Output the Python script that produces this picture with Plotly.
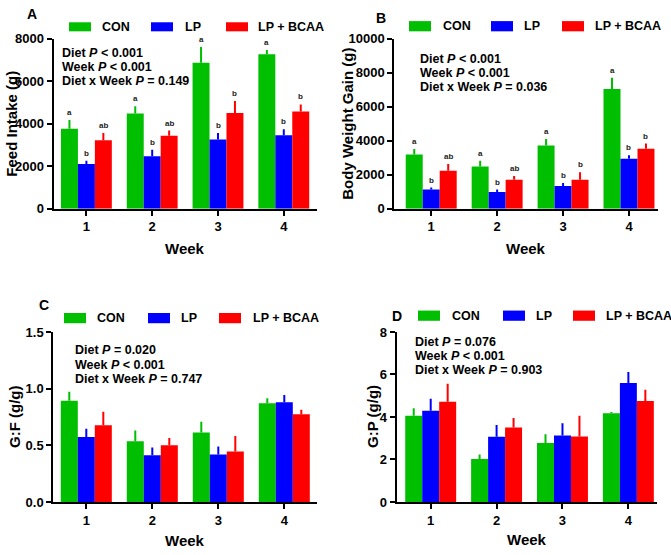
import plotly.graph_objects as go

W, H = 671, 555
weeks = [1, 2, 3, 4]
groups = ["CON", "LP", "LP + BCAA"]
colors = ["#00BE00", "#0000FF", "#FF0000"]

# Panel A: Feed intake (g)
fi_mean = {"CON": [3760, 4480, 6860, 7270], "LP": [2100, 2470, 3260, 3460], "LP + BCAA": [3215, 3430, 4500, 4570]}
fi_err = {"CON": [410, 335, 750, 200], "LP": [150, 300, 300, 275], "LP + BCAA": [350, 245, 565, 335]}
fi_let = {"CON": ["a", "a", "a", "a"], "LP": ["b", "b", "b", "b"], "LP + BCAA": ["ab", "ab", "b", "b"]}

# Panel B: Body weight gain (g)
bw_mean = {"CON": [3190, 2480, 3720, 7040], "LP": [1130, 990, 1340, 2940], "LP + BCAA": [2230, 1700, 1700, 3530]}
bw_err = {"CON": [325, 340, 380, 670], "LP": [115, 135, 170, 210], "LP + BCAA": [400, 230, 440, 305]}
bw_let = {"CON": ["a", "a", "a", "a"], "LP": ["b", "b", "b", "b"], "LP + BCAA": ["ab", "ab", "b", "b"]}

# Panel C: G:F (g/g)
gf_mean = {"CON": [0.893, 0.536, 0.613, 0.871], "LP": [0.573, 0.412, 0.418, 0.879], "LP + BCAA": [0.676, 0.501, 0.446, 0.773]}
gf_err = {"CON": [0.080, 0.094, 0.094, 0.045], "LP": [0.074, 0.069, 0.071, 0.065], "LP + BCAA": [0.120, 0.063, 0.135, 0.040]}

# Panel D: G:P (g/g)
gp_mean = {"CON": [4.06, 2.02, 2.78, 4.18], "LP": [4.29, 3.07, 3.13, 5.60], "LP + BCAA": [4.72, 3.50, 3.08, 4.75]}
gp_err = {"CON": [0.35, 0.21, 0.41, 0.05], "LP": [0.57, 0.55, 0.57, 0.52], "LP + BCAA": [0.84, 0.45, 0.98, 0.53]}

stats_A = ["Diet <i>P</i> &lt; 0.001", "Week <i>P</i> &lt; 0.001", "Diet x Week <i>P</i> = 0.149"]
stats_B = ["Diet <i>P</i> &lt; 0.001", "Week <i>P</i> &lt; 0.001", "Diet x Week <i>P</i> = 0.036"]
stats_C = ["Diet <i>P</i> = 0.020", "Week <i>P</i> &lt; 0.001", "Diet x Week <i>P</i> = 0.747"]
stats_D = ["Diet <i>P</i> = 0.076", "Week <i>P</i> &lt; 0.001", "Diet x Week <i>P</i> = 0.903"]

FONT = "Arial, Liberation Sans, sans-serif"
BARGAP = 0.227


def px(x):
    return x / W


def py(y):
    return 1 - y / H


panels = [
    dict(ax="", mean=fi_mean, err=fi_err, let=fi_let, ytitle="Feed Intake (g)", ytick=[0, 2000, 4000, 6000, 8000],
         yfmt="d", yr=[0, 8000], dom=(53.5, 316.7, 32.5, 207.3), xr=[0.5, 4.5], label="A", stats=stats_A,
         label_xy=(32, 7), legx=(69, 151, 226), legy=(15.7, 25), legtx=(100, 183, 256),
         stat_xy=(60, 47), ytitle_x=12, week_y=248),
    dict(ax="2", mean=bw_mean, err=bw_err, let=bw_let, ytitle="Body Weight Gain (g)", ytick=[0, 2000, 4000, 6000, 8000, 10000],
         yfmt="d", yr=[0, 10000], dom=(394.3, 658, 32.7, 207.3), xr=[0.44, 4.44], label="B", stats=stats_B,
         label_xy=(381, 11), legx=(409, 491, 562), legy=(14.5, 25), legtx=(441, 522, 593),
         stat_xy=(418, 53), ytitle_x=348, week_y=248),
    dict(ax="3", mean=gf_mean, err=gf_err, let=None, ytitle="G:F (g/g)", ytick=[0, 0.5, 1.0, 1.5],
         yfmt=".1f", yr=[0, 1.5], dom=(53.3, 317.3, 334, 508.7), xr=[0.5, 4.5], label="C", stats=stats_C,
         label_xy=(44, 306), legx=(64, 148, 219), legy=(314.5, 325), legtx=(95, 179, 251),
         stat_xy=(73, 353), ytitle_x=15, week_y=548),
    dict(ax="4", mean=gp_mean, err=gp_err, let=None, ytitle="G:P (g/g)", ytick=[0, 2, 4, 6, 8],
         yfmt="d", yr=[0, 8], dom=(396.7, 656.7, 334, 508.7), xr=[0.484, 4.43], label="D", stats=stats_D,
         label_xy=(397, 318), legx=(418, 503, 573), legy=(312, 322.5), legtx=(450, 534, 604),
         stat_xy=(413, 344), ytitle_x=373, week_y=547),
]

fig = go.Figure()
shapes = []
annotations = []
layout = {}

bw = (1 - BARGAP) / len(groups)


def ann(x, y, text, size, xanchor="center", yanchor="middle", angle=0):
    return dict(x=px(x), y=py(y), xref="paper", yref="paper", text=text, showarrow=False,
                xanchor=xanchor, yanchor=yanchor, textangle=angle,
                font=dict(size=size, family=FONT, color="black"))


for p in panels:
    ax = p["ax"]
    xname, yname = "x" + ax, "y" + ax
    for gi, g in enumerate(groups):
        fig.add_trace(go.Bar(
            x=weeks, y=p["mean"][g], name=g, showlegend=False,
            marker=dict(color=colors[gi], line=dict(width=0)),
            error_y=dict(type="data", symmetric=False, array=p["err"][g],
                         arrayminus=[0] * len(weeks), color=colors[gi], thickness=2, width=0),
            xaxis=xname, yaxis=yname,
        ))
        if p["let"] is not None:
            off = (gi - 1) * bw
            for wi, wk in enumerate(weeks):
                annotations.append(dict(
                    x=wk + off, y=p["mean"][g][wi] + p["err"][g][wi], xref=xname, yref=yname,
                    text="<b>%s</b>" % p["let"][g][wi], showarrow=False, yanchor="bottom", xanchor="center",
                    yshift=1, font=dict(size=8, family=FONT, color="#222")))
    x0, x1, yt, yb = p["dom"]
    layout["xaxis" + ax] = dict(
        domain=[px(x0), px(x1)], range=p["xr"], anchor=yname, tickmode="array", tickvals=weeks,
        ticktext=[str(w) for w in weeks], showline=True, linewidth=2, linecolor="black",
        ticks="outside", ticklen=5, tickwidth=2, tickcolor="black", showgrid=False, zeroline=False,
        tickfont=dict(size=13, family=FONT, color="black", weight="bold"),
    )
    layout["yaxis" + ax] = dict(
        domain=[py(yb), py(yt)], range=p["yr"], anchor=xname, tickmode="array", tickvals=p["ytick"],
        tickformat=p["yfmt"], showline=True, linewidth=2, linecolor="black",
        ticks="outside", ticklen=5, tickwidth=2, tickcolor="black", showgrid=False, zeroline=False,
        tickfont=dict(size=13, family=FONT, color="black", weight="bold"),
    )
    annotations.append(ann(p["ytitle_x"], (yt + yb) / 2, "<b>%s</b>" % p["ytitle"], 15, angle=-90))
    annotations.append(ann((x0 + x1) / 2, p["week_y"], "<b>Week</b>", 15))
    lx, ly = p["label_xy"]
    annotations.append(ann(lx, ly, "<b>%s</b>" % p["label"], 14))
    ly0, ly1 = p["legy"]
    for gi, g in enumerate(groups):
        lx0 = p["legx"][gi]
        shapes.append(dict(type="rect", xref="paper", yref="paper", x0=px(lx0), x1=px(lx0 + 22),
                           y0=py(ly1), y1=py(ly0), fillcolor=colors[gi], line=dict(width=0)))
        annotations.append(ann(p["legtx"][gi], (ly0 + ly1) / 2, "<b>%s</b>" % g, 12.5, xanchor="left"))
    sx, sy = p["stat_xy"]
    for li, s in enumerate(p["stats"]):
        annotations.append(ann(sx, sy + li * 14.5, "<b>%s</b>" % s, 12.5, xanchor="left"))

fig.update_layout(
    width=W, height=H, autosize=False, margin=dict(l=0, r=0, t=0, b=0),
    paper_bgcolor="white", plot_bgcolor="white",
    barmode="group", bargap=BARGAP, bargroupgap=0,
    shapes=shapes, annotations=annotations, showlegend=False,
    **layout,
)

post = (
    "var s='margin:0;padding:0;overflow:hidden;width:671px;height:555px;';"
    "document.documentElement.style.cssText=s;document.body.style.cssText=s;"
    "var gd=document.getElementById('{plot_id}');"
    "gd.style.position='absolute';gd.style.left='0px';gd.style.top='0px';"
)
fig.write_html("out.html", config={"responsive": False, "displayModeBar": False}, post_script=post)
